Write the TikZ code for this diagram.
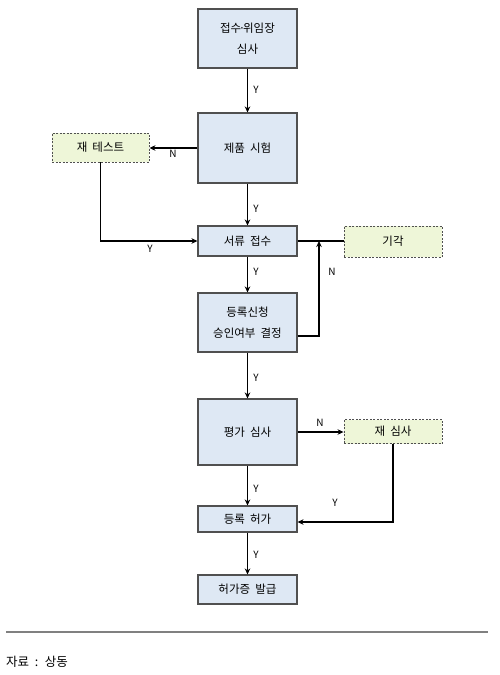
\documentclass[tikz,border=0pt]{standalone}
\usepackage{fontspec}
\setmainfont{Noto Sans CJK KR}
\usetikzlibrary{arrows.meta,positioning}
\definecolor{boxblue}{RGB}{222,232,244}
\definecolor{boxgreen}{RGB}{238,246,216}
\definecolor{boxline}{RGB}{80,80,80}
\newcommand{\widesp}{\spaceskip=0.45em\relax}
\tikzset{
  mainbox/.style={draw=boxline,line width=1.1pt,fill=boxblue,minimum width=99pt,inner sep=0pt,align=center,font=\fontsize{11.5}{21}\selectfont\widesp},
  altbox/.style={draw=boxline,line width=0.9pt,dashed,dash pattern=on 2pt off 1.5pt,fill=boxgreen,minimum width=98pt,inner sep=0pt,align=center,font=\fontsize{11.5}{12}\selectfont\widesp},
  conn/.style={draw=black,line width=1.4pt,-{Stealth[length=6pt,width=5.5pt]}},
  plainconn/.style={draw=black,line width=1.4pt},
  lbl/.style={font=\fontsize{10}{11}\selectfont,inner sep=0pt}
}
\begin{document}
\begin{tikzpicture}[x=1pt,y=-1pt]
\useasboundingbox (0,0) rectangle (500,675);
% main boxes
\node[mainbox,minimum height=59pt] (b1) at (247.5,38.5) {접수\kern-0.2em·\kern-0.2em위임장\\심사};
\node[mainbox,minimum height=70pt] (b2) at (247.5,148) {제품 시험};
\node[mainbox,minimum height=30pt] (b3) at (247.5,241) {서류 접수};
\node[mainbox,minimum height=59pt] (b4) at (247.5,322.5) {등록신청\\승인여부 결정};
\node[mainbox,minimum height=66pt] (b5) at (247.5,432) {평가 심사};
\node[mainbox,minimum height=26pt] (b6) at (247.5,519) {등록 허가};
\node[mainbox,minimum height=29pt] (b7) at (247.5,589.5) {허가증 발급};
% alternative boxes
\node[altbox,minimum width=97pt,minimum height=29pt] (retest) at (100.5,147.5) {재 테스트};
\node[altbox,minimum height=31pt] (reject) at (393,241.5) {기각};
\node[altbox,minimum height=24pt] (rereview) at (393,431.5) {재 심사};
% connectors
\draw[conn] (b1) -- (b2);
\node[lbl] (y1) at (256,90) {Y};
\draw[conn] (b2.west) -- (b2.west -| retest.east);
\node[lbl] (n1) at (173,154) {N};
\draw[conn] (retest.south) |- (b3.west);
\node[lbl] (y2) at (150,249) {Y};
\draw[conn] (b2) -- (b3);
\node[lbl] (y3) at (256,209) {Y};
\draw[plainconn] (b3.east) -- (b3.east -| reject.west);
\coordinate (j1) at (319,241);
\draw[conn] ([yshift=-13.5pt]b4.east) -| (j1);
\node[lbl] (n2) at (332,272) {N};
\draw[conn] (b3) -- (b4);
\node[lbl] (y4) at (256,272) {Y};
\draw[conn] (b4) -- (b5);
\node[lbl] (y5) at (256,378) {Y};
\draw[conn] (b5.east) -- (b5.east -| rereview.west);
\node[lbl] (n3) at (320,423) {N};
\draw[conn] (rereview.south) |- ([yshift=-3pt]b6.east);
\node[lbl] (y6) at (335,503) {Y};
\draw[conn] (b5) -- (b6);
\node[lbl] (y7) at (256,489) {Y};
\draw[conn] (b6) -- (b7);
\node[lbl] (y8) at (256,555) {Y};
% footer
\coordinate (r1) at (6,632);
\coordinate (r2) at (488,632);
\draw[draw=gray,line width=1.5pt] (r1) -- (r2);
\node[anchor=west,inner sep=0pt,font=\fontsize{12.5}{13}\selectfont\widesp] (src) at (6,662) {자료 : 상동};
\end{tikzpicture}
\end{document}
